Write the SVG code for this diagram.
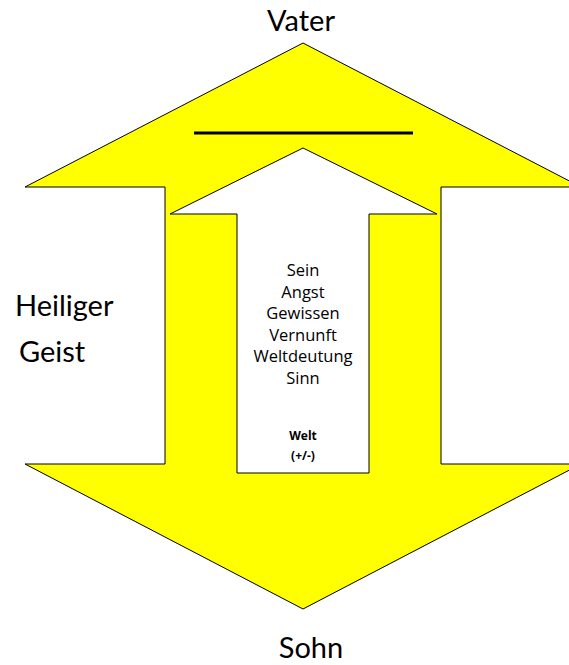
<svg xmlns="http://www.w3.org/2000/svg" width="569" height="665" viewBox="0 0 569 665">
<style>
.shape{stroke:#000;stroke-width:1;stroke-linejoin:miter}
.big{font-family:Lato,"Open Sans","Liberation Sans",sans-serif;font-size:29px;fill:#000}
.mid{font-family:"Open Sans","Liberation Sans",sans-serif;font-size:16.5px;fill:#000;text-anchor:middle}
.small{font-family:"Open Sans","Liberation Sans",sans-serif;font-size:12px;font-weight:bold;fill:#000;text-anchor:middle}
</style>
<rect width="569" height="665" fill="#fff"/>
<g id="outer-arrow">
<polygon class="shape" fill="#ffff00" points="303,43 581,187 441,187 441,464 581,464 303,609 25,464 165,464 165,187 25,187"/>
</g>
<g id="inner-arrow">
<polygon class="shape" fill="#fff" points="303,148 437,214 369,214 369,473 237,473 237,214 170,214"/>
<text class="mid" x="303" y="276">Sein</text>
<text class="mid" x="303" y="297.5">Angst</text>
<text class="mid" x="303" y="319">Gewissen</text>
<text class="mid" x="303" y="340.5">Vernunft</text>
<text class="mid" x="303" y="362">Weltdeutung</text>
<text class="mid" x="303" y="383.5">Sinn</text>
<text class="small" x="303" y="440">Welt</text>
<text class="small" x="303" y="460">(+/-)</text>
</g>
<g id="connectors">
<line x1="194" y1="133" x2="413" y2="133" stroke="#000" stroke-width="3"/>
</g>
<g id="vater"><text class="big" x="301" y="30.5" text-anchor="middle">Vater</text></g>
<g id="sohn"><text class="big" x="311" y="657.5" text-anchor="middle">Sohn</text></g>
<g id="geist">
<text class="big" x="15" y="316">Heiliger</text>
<text class="big" x="19" y="362">Geist</text>
</g>
</svg>
